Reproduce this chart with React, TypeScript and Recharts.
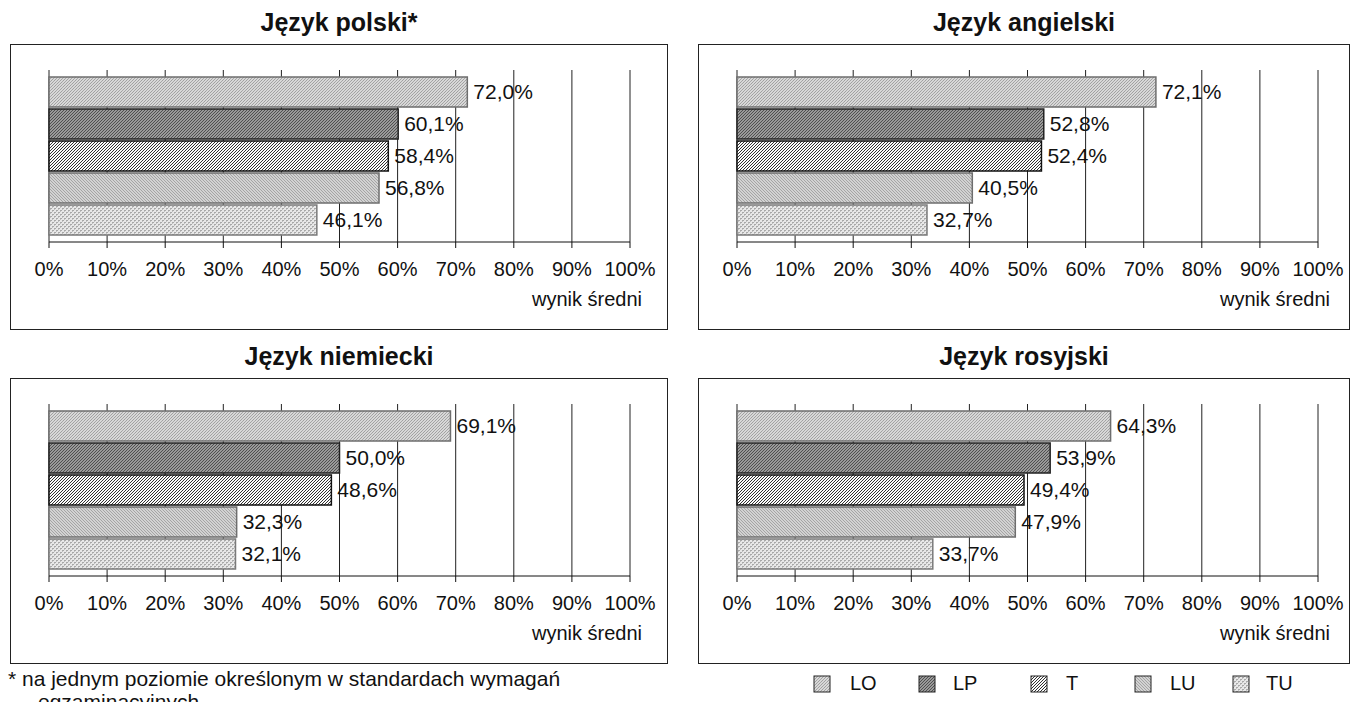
import React from "react";
import { BarChart, Bar, XAxis, YAxis, CartesianGrid, Cell, LabelList } from "recharts";

const categories = ["LO", "LP", "T", "LU", "TU"];
const polskiValues = [72.0, 60.1, 58.4, 56.8, 46.1];
const angielskiValues = [72.1, 52.8, 52.4, 40.5, 32.7];
const niemieckiValues = [69.1, 50.0, 48.6, 32.3, 32.1];
const rosyjskiValues = [64.3, 53.9, 49.4, 47.9, 33.7];
const xTicks = [0, 10, 20, 30, 40, 50, 60, 70, 80, 90, 100];

const FONT = "'Liberation Sans', Arial, sans-serif";

// fill + border for each school type
const fills: Record<string, string> = {
  LO: "url(#pLO)",
  LP: "url(#pLP)",
  T: "url(#pT)",
  LU: "url(#pLU)",
  TU: "url(#pTU)",
};
const strokes: Record<string, string> = {
  LO: "#6e6e6e",
  LP: "#222",
  T: "#111",
  LU: "#6e6e6e",
  TU: "#7a7a7a",
};

const fmt = (v: number) => v.toFixed(1).replace(".", ",") + "%";

const Patterns = () => (
  <svg width="0" height="0" style={{ position: "absolute" }}>
    <defs>
      <pattern id="pLO" width="3" height="3" patternUnits="userSpaceOnUse">
        <rect width="3" height="3" fill="#d8d8d8" />
        <rect x="0" y="2" width="1" height="1" fill="#a0a0a0" />
        <rect x="1" y="1" width="1" height="1" fill="#a8a8a8" />
        <rect x="2" y="0" width="1" height="1" fill="#a0a0a0" />
      </pattern>
      <pattern id="pLP" width="3" height="3" patternUnits="userSpaceOnUse">
        <rect width="3" height="3" fill="#9a9a9a" />
        <rect x="0" y="2" width="1" height="1" fill="#505050" />
        <rect x="1" y="1" width="1" height="1" fill="#505050" />
        <rect x="2" y="0" width="1" height="1" fill="#505050" />
      </pattern>
      <pattern id="pT" width="3" height="3" patternUnits="userSpaceOnUse">
        <rect width="3" height="3" fill="#fafafa" />
        <path d="M0,3 L3,0 M-1,1 L1,-1 M2,4 L4,2" stroke="#1a1a1a" strokeWidth="0.9" />
      </pattern>
      <pattern id="pLU" width="3" height="3" patternUnits="userSpaceOnUse">
        <rect width="3" height="3" fill="#d2d2d2" />
        <rect x="0" y="0" width="1" height="1" fill="#a4a4a4" />
        <rect x="1" y="1" width="1" height="1" fill="#a4a4a4" />
        <rect x="2" y="2" width="1" height="1" fill="#a4a4a4" />
      </pattern>
      <pattern id="pTU" width="4" height="4" patternUnits="userSpaceOnUse">
        <rect width="4" height="4" fill="#e8e8e8" />
        <rect x="0" y="0" width="2" height="1" fill="#a8a8a8" />
        <rect x="2" y="2" width="2" height="1" fill="#a8a8a8" />
        <rect x="0" y="1" width="1" height="1" fill="#c0c0c0" />
        <rect x="2" y="3" width="1" height="1" fill="#c0c0c0" />
      </pattern>
    </defs>
  </svg>
);

interface PanelProps {
  title: string;
  values: number[];
  left: number;
  top: number;
  width: number;
  height: number;
  marginRight: number;
}

const Panel = ({ title, values, left, top, width, height, marginRight }: PanelProps) => {
  const data = categories.map((name, i) => ({ name, value: values[i] }));
  return (
    <>
      <div
        style={{
          position: "absolute",
          left: left,
          top: top - 37,
          width: width,
          textAlign: "center",
          fontWeight: "bold",
          fontSize: 25,
          lineHeight: "30px",
        }}
      >
        {title}
      </div>
      <div
        style={{
          position: "absolute",
          left: left,
          top: top,
          width: width,
          height: height,
          boxSizing: "border-box",
          border: "1.5px solid #222",
        }}
      />
      <div style={{ position: "absolute", left: left, top: top }}>
        <BarChart
          width={width}
          height={height}
          data={data}
          layout="vertical"
          margin={{ top: 26, right: marginRight, bottom: 58, left: 39 }}
          barSize={30}
        >
          <CartesianGrid horizontal={false} stroke="#222" strokeWidth={1} />
          <XAxis
            type="number"
            domain={[0, 100]}
            ticks={xTicks}
            tickFormatter={(v: number) => v + "%"}
            axisLine={{ stroke: "#111" }}
            tickLine={{ stroke: "#111" }}
            tickSize={6}
            tickMargin={14}
            tick={{ fill: "#111", fontSize: 20, fontFamily: FONT }}
            interval={0}
          />
          <XAxis
            xAxisId="top"
            type="number"
            domain={[0, 100]}
            orientation="top"
            height={0}
            tick={false}
            tickLine={false}
            axisLine={{ stroke: "#8a8a8a", strokeWidth: 2 }}
          />
          <YAxis
            type="category"
            dataKey="name"
            width={0}
            tick={false}
            tickLine={false}
            axisLine={{ stroke: "#8a8a8a", strokeWidth: 2 }}
            padding={{ top: 6, bottom: 6 }}
          />
          <Bar dataKey="value" isAnimationActive={false} strokeWidth={1.5}>
            {data.map((d) => (
              <Cell key={d.name} fill={fills[d.name]} stroke={strokes[d.name]} />
            ))}
            <LabelList
              dataKey="value"
              position="right"
              offset={6}
              formatter={(v: any) => fmt(Number(v))}
              style={{ fill: "#111", fontSize: 21, fontFamily: FONT }}
            />
          </Bar>
        </BarChart>
      </div>
      <div
        style={{
          position: "absolute",
          left: left,
          top: top + 244,
          width: width - (marginRight - 12),
          textAlign: "right",
          fontSize: 20,
          lineHeight: "23px",
        }}
      >
        wynik średni
      </div>
    </>
  );
};

const legendBoxX = [813, 918, 1030, 1134, 1232];
const legendTextX = [850, 953, 1066, 1170, 1266];

const LegendItem = ({ i }: { i: number }) => (
  <>
    <svg width={18} height={18} style={{ position: "absolute", left: legendBoxX[i], top: 675 }}>
      <rect x={1} y={1} width={16} height={16} fill={fills[categories[i]]} stroke="#222" strokeWidth={1} />
    </svg>
    <div style={{ position: "absolute", left: legendTextX[i], top: 672, fontSize: 20, lineHeight: "23px" }}>
      {categories[i]}
    </div>
  </>
);

export default function App() {
  return (
    <div
      style={{
        position: "absolute",
        left: 0,
        top: 0,
        width: 1350,
        height: 702,
        overflow: "hidden",
        background: "#fff",
        fontFamily: FONT,
        color: "#111",
      }}
    >
      <Patterns />
      <Panel title="Język polski*" values={polskiValues} left={10} top={44} width={658} height={286} marginRight={38} />
      <Panel title="Język angielski" values={angielskiValues} left={698} top={44} width={652} height={286} marginRight={32} />
      <Panel title="Język niemiecki" values={niemieckiValues} left={10} top={378} width={658} height={286} marginRight={38} />
      <Panel title="Język rosyjski" values={rosyjskiValues} left={698} top={378} width={652} height={286} marginRight={32} />
      {categories.map((c, i) => (
        <LegendItem key={c} i={i} />
      ))}
      <div style={{ position: "absolute", left: 8, top: 667, fontSize: 21, lineHeight: "23px" }}>
        * na jednym poziomie określonym w standardach wymagań
        <br />
        <span style={{ marginLeft: 30 }}>egzaminacyjnych</span>
      </div>
    </div>
  );
}
